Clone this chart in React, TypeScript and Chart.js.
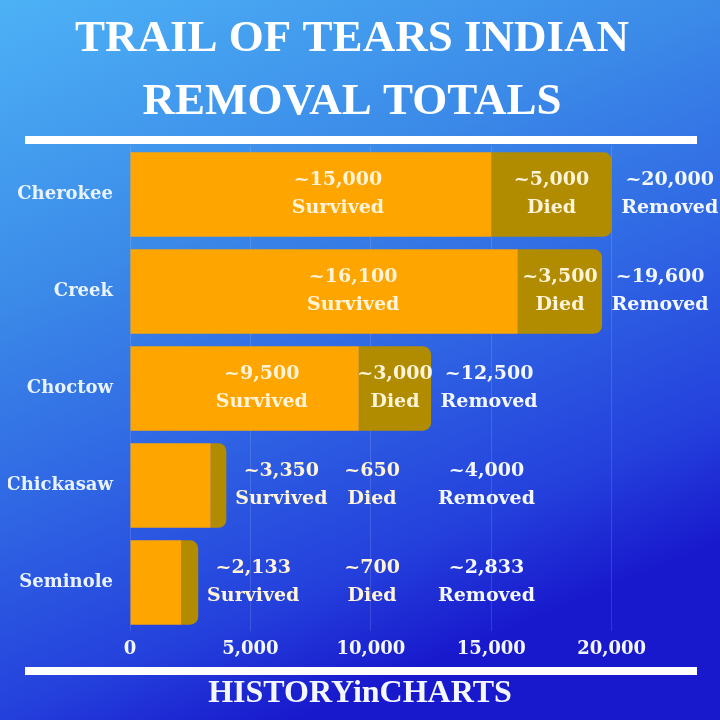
import { useEffect, useRef } from "react";
import { Chart, registerables } from "chart.js";

Chart.register(...registerables);

const tribes = ["Cherokee", "Creek", "Choctow", "Chickasaw", "Seminole"];
const survived = [15000, 16100, 9500, 3350, 2133];
const died = [5000, 3500, 3000, 650, 700];
const survivedLabels = ["~15,000", "~16,100", "~9,500", "~3,350", "~2,133"];
const diedLabels = ["~5,000", "~3,500", "~3,000", "~650", "~700"];
const removedLabels = ["~20,000", "~19,600", "~12,500", "~4,000", "~2,833"];
const xTickValues = [0, 5000, 10000, 15000, 20000];
const titleLines = ["TRAIL OF TEARS INDIAN", "REMOVAL TOTALS"];
const footerText = "HISTORYinCHARTS";

const SERIF = '"DejaVu Serif", serif';
const TITLE_SERIF = '"Liberation Serif", serif';

const backgroundPlugin = {
  id: "bg",
  beforeDraw(chart: any) {
    const { ctx, width, height } = chart;
    ctx.save();
    const g = ctx.createLinearGradient(0, 0, 300, 720);
    g.addColorStop(0, "#4db2f6");
    g.addColorStop(0.36, "#3b8ae8");
    g.addColorStop(0.6, "#3068e4");
    g.addColorStop(0.85, "#2440dc");
    g.addColorStop(1, "#1818cc");
    ctx.fillStyle = g;
    ctx.fillRect(0, 0, width, height);
    ctx.restore();
  },
  afterDraw(chart: any) {
    const { ctx } = chart;
    ctx.save();
    ctx.fillStyle = "#ffffff";
    ctx.fillRect(25, 136, 672, 8);
    ctx.fillRect(25, 667, 672, 8);
    ctx.fillStyle = "#f4f7ff";
    ctx.font = `bold 32px ${TITLE_SERIF}`;
    ctx.textAlign = "center";
    ctx.textBaseline = "middle";
    ctx.fillText(footerText, 360, 694);
    ctx.restore();
  },
};

const labelPlugin = {
  id: "barLabels",
  afterDatasetsDraw(chart: any) {
    const { ctx } = chart;
    const m0 = chart.getDatasetMeta(0);
    const m1 = chart.getDatasetMeta(1);
    const xs = chart.scales.x;
    ctx.save();
    ctx.font = `bold 19px ${SERIF}`;
    ctx.textAlign = "center";
    ctx.textBaseline = "middle";
    const two = (a: string, b: string, x: number, y: number, color: string) => {
      ctx.fillStyle = color;
      ctx.fillText(a, x, y - 14);
      ctx.fillText(b, x, y + 14);
    };
    tribes.forEach((_, i) => {
      const b0 = m0.data[i];
      const b1 = m1.data[i];
      const cy = b0.y;
      const w0 = b0.x - b0.base;
      let sx: number, dx: number, rx: number;
      if (w0 > 150) {
        sx = b0.base + w0 * 0.575;
        dx = (b1.base + b1.x) / 2;
        rx = b1.x + 58;
      } else {
        sx = b1.x + 55;
        dx = xs.getPixelForValue(10050);
        rx = xs.getPixelForValue(14800);
      }
      two(survivedLabels[i], "Survived", sx, cy, "#fff4d8");
      two(diedLabels[i], "Died", dx, cy, "#fff4d8");
      two(removedLabels[i], "Removed", rx, cy, "#f3f7ff");
    });
    ctx.restore();
  },
};

export default function App() {
  const ref = useRef<HTMLCanvasElement>(null);
  useEffect(() => {
    if (!ref.current) return;
    const chart = new Chart(ref.current, {
      type: "bar",
      data: {
        labels: tribes,
        datasets: [
          {
            label: "Survived",
            data: survived,
            backgroundColor: "#ffa500",
            borderRadius: 0,
            borderSkipped: "start",
            barPercentage: 0.87,
            categoryPercentage: 1,
          },
          {
            label: "Died",
            data: died,
            backgroundColor: "#b28c00",
            borderRadius: 8,
            borderSkipped: "start",
            barPercentage: 0.87,
            categoryPercentage: 1,
          },
        ],
      },
      options: {
        indexAxis: "y",
        responsive: false,
        animation: false,
        layout: { padding: { left: 8, right: 24, top: 0, bottom: 0 } },
        plugins: {
          legend: { display: false },
          tooltip: { enabled: false },
          title: {
            display: true,
            text: titleLines,
            color: "#ffffff",
            font: { family: TITLE_SERIF, size: 45, weight: "bold", lineHeight: 1.4 },
            padding: { top: 8, bottom: 12 },
          },
        },
        scales: {
          x: {
            stacked: true,
            min: 0,
            max: 23500,
            grid: { color: "rgba(255,255,255,0.13)", drawTicks: false },
            border: { display: false },
            ticks: {
              stepSize: 5000,
              padding: 8,
              color: "#f3f7ff",
              font: { family: SERIF, size: 18, weight: "bold" },
              callback: (v: any) => Number(v).toLocaleString("en-US"),
            },
            afterBuildTicks: (scale: any) => {
              scale.ticks = xTickValues.map((v) => ({ value: v }));
            },
            afterFit: (scale: any) => {
              scale.height = 89;
            },
          },
          y: {
            stacked: true,
            grid: { display: false, drawTicks: false },
            border: { display: false },
            ticks: {
              padding: 17,
              color: "#e8f3ff",
              font: { family: SERIF, size: 18, weight: "bold" },
            },
            afterFit: (scale: any) => {
              scale.width = 122;
            },
          },
        },
      },
      plugins: [backgroundPlugin, labelPlugin],
    } as any);
    return () => chart.destroy();
  }, []);
  return (
    <div style={{ position: "fixed", left: 0, top: 0, width: 720, height: 720 }}>
      <canvas ref={ref} width={720} height={720} style={{ display: "block" }} />
    </div>
  );
}
